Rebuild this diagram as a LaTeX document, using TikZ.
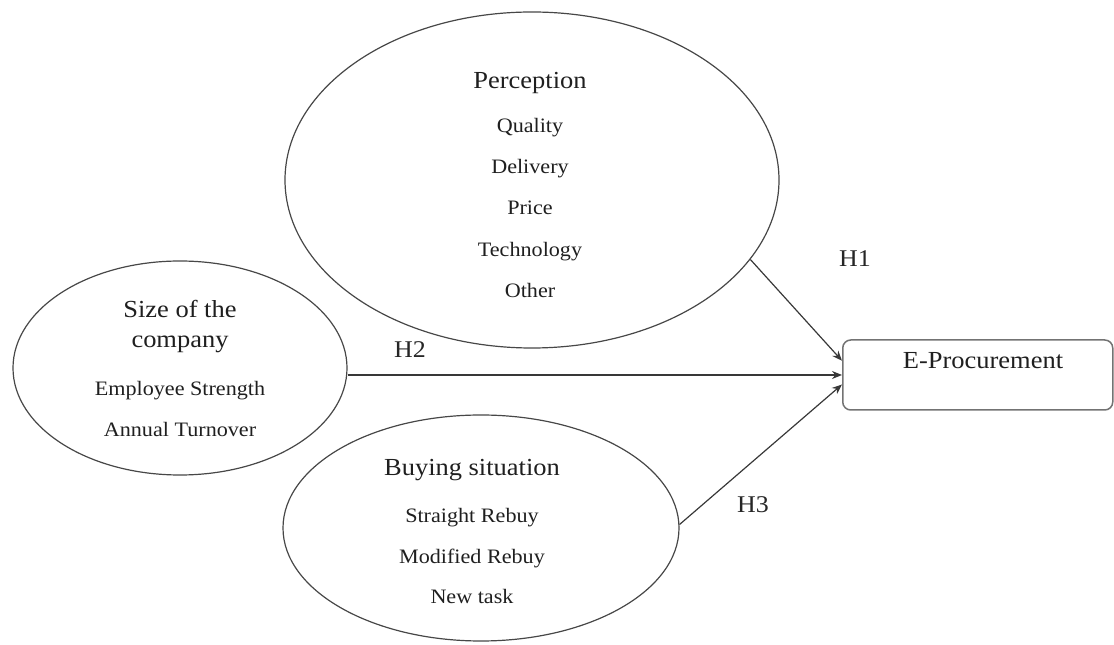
\documentclass[tikz,border=0pt]{standalone}
\usepackage{fontspec}
\setmainfont{Liberation Serif}[FakeStretch=1.08]
\usetikzlibrary{shapes.geometric,arrows.meta}
\tikzset{
  oval/.style={draw=black!72, line width=1.2pt, ellipse, inner sep=0pt},
  ttl/.style={anchor=base, inner sep=0pt, font=\fontsize{24.5}{28}\selectfont, text=black!88},
  itm/.style={anchor=base, inner sep=0pt, font=\fontsize{20.5}{24}\selectfont, text=black!88},
  hlab/.style={anchor=base, inner sep=0pt, font=\fontsize{24}{28}\selectfont, text=black!85},
  conn/.style={draw=black!78, line width=1.2pt, -{Stealth[length=10pt,width=8pt]}},
  outbox/.style={draw=black!55, line width=1.5pt, rounded corners=8pt, inner sep=0pt}
}
\begin{document}
\begin{tikzpicture}[x=1pt,y=1pt]
\useasboundingbox (0,0) rectangle (1114,645);
% ellipses
\node[oval, minimum width=494pt, minimum height=336pt] (perc) at (532,465) {};
\node[oval, minimum width=334pt, minimum height=214pt] (size) at (180,277) {};
\node[oval, minimum width=396pt, minimum height=226pt] (buy) at (481,117) {};
% outcome box
\node[outbox, minimum width=270pt, minimum height=70pt, anchor=west] (box) at (842,270) {};
\node[ttl] (boxt) at (983,276) {E-Procurement};
% perception text
\node[ttl] (pt) at (530,556) {Perception};
\node[itm] (p1) at (530,512) {Quality};
\node[itm] (p2) at (530,471) {Delivery};
\node[itm] (p3) at (530,430) {Price};
\node[itm] (p4) at (530,388) {Technology};
\node[itm] (p5) at (530,347) {Other};
% size text
\node[ttl] (st1) at (180,327) {Size of the};
\node[ttl] (st2) at (180,297) {company};
\node[itm] (s1) at (180,249) {Employee Strength};
\node[itm] (s2) at (180,208) {Annual Turnover};
% buying text
\node[ttl] (bt) at (472,169) {Buying situation};
\node[itm] (b1) at (472,122) {Straight Rebuy};
\node[itm] (b2) at (472,81) {Modified Rebuy};
\node[itm] (b3) at (472,41) {New task};
% connectors
\draw[conn] (perc.-20) -- (box.174);
\draw[conn] (size.east |- box.west) -- (box.west);
\draw[conn] (buy.1) -- (box.-176.6);
% hypothesis labels
\node[hlab] (h1) at (855,378) {H1};
\node[hlab] (h2) at (410,287) {H2};
\node[hlab] (h3) at (753,132) {H3};
\end{tikzpicture}
\end{document}
